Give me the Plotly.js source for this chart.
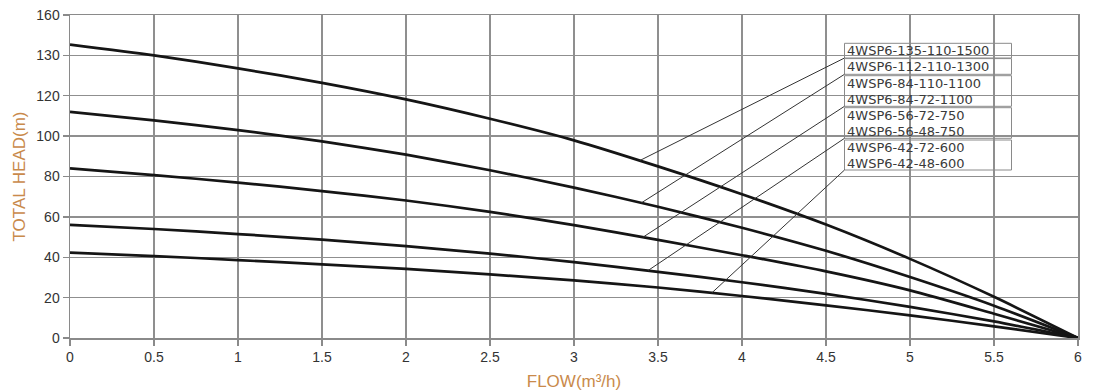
<!DOCTYPE html>
<html>
<head>
<meta charset="utf-8">
<script src="https://cdn.plot.ly/plotly-3.0.1.min.js"></script>
<style>html,body{margin:0;padding:0;background:#fff;}#chart{width:1112px;height:392px;}</style>
</head>
<body>
<div id="chart"></div>
<script>
// ---- data ----
const flow = [0, 0.5, 1, 1.5, 2, 2.5, 3, 3.5, 4, 4.5, 5, 5.5, 6];
const head1500 = [145.3, 140.0, 133.6, 126.4, 118.2, 108.6, 97.9, 85.0, 71.2, 56.2, 39.2, 20.4, 0];
const head1300 = [112.0, 107.8, 103.0, 97.4, 90.8, 83.1, 74.5, 65.0, 54.6, 43.2, 30.2, 16.0, 0];
const head1100 = [84.0, 80.7, 77.0, 72.8, 68.1, 62.5, 55.9, 48.6, 41.0, 33.0, 23.6, 12.0, 0];
const head750 = [56.0, 54.0, 51.5, 48.7, 45.5, 41.8, 37.6, 32.8, 27.6, 21.9, 15.4, 8.2, 0];
const head600 = [42.3, 40.6, 38.6, 36.5, 34.2, 31.5, 28.5, 25.0, 20.8, 16.2, 11.2, 5.8, 0];
const curves = [head1500, head1300, head1100, head750, head600];

const modelLabels = [
  ["4WSP6-135-110-1500"],
  ["4WSP6-112-110-1300"],
  ["4WSP6-84-110-1100", "4WSP6-84-72-1100"],
  ["4WSP6-56-72-750", "4WSP6-56-48-750"],
  ["4WSP6-42-72-600", "4WSP6-42-48-600"]
];
const labelFlow = [3.39, 3.40, 3.41, 3.44, 3.82];

const yTickVals = [0, 20, 40, 60, 80, 100, 120, 140, 160];
const yTickText = ["0", "20", "40", "60", "80", "100", "120", "130", "160"];

// ---- helpers ----
function interp(xs, ys, x) {
  for (let i = 0; i < xs.length - 1; i++) {
    if (x >= xs[i] && x <= xs[i + 1]) {
      const t = (x - xs[i]) / (xs[i + 1] - xs[i]);
      return ys[i] + t * (ys[i + 1] - ys[i]);
    }
  }
  return ys[ys.length - 1];
}

// plot area in pixels
const W = 1112, H = 392;
const M = {l: 70, r: 34, t: 15, b: 54};
const pw = W - M.l - M.r, ph = H - M.t - M.b;
const px2x = p => (p - M.l) / pw * 6;
const py2y = p => (H - M.b - p) / ph * 160;

// label boxes (pixel layout)
const boxLeft = 844.5, boxRight = 1011.5;
const boxTB = [[43.3, 58.0], [58.6, 74.3], [75.7, 106.3], [107.7, 138.3], [140.0, 170.0]];
const lineCenters = [[50.6], [66.4], [83.2], [99.0], [115.3], [131.0], [147.3], [163.0]];

const traces = curves.map((c, i) => ({
  x: flow, y: c, type: 'scatter', mode: 'lines',
  line: {color: '#151515', width: 2.7, shape: 'spline', smoothing: 0.7},
  hoverinfo: 'skip', showlegend: false
}));

const labelFont = {family: 'DejaVu Sans, sans-serif', size: 13, color: '#3a3a3a'};
const shapes = [];
const annotations = [];
let k = 0;
modelLabels.forEach((grp, i) => {
  const [t, b] = boxTB[i];
  shapes.push({type: 'rect', xref: 'x', yref: 'y',
    x0: px2x(boxLeft), x1: px2x(boxRight), y0: py2y(b), y1: py2y(t),
    line: {color: '#8a8a8a', width: 1}, fillcolor: 'rgba(255,255,255,0)', layer: 'above'});
  const fx = labelFlow[i];
  shapes.push({type: 'line', xref: 'x', yref: 'y',
    x0: fx, y0: interp(flow, curves[i], fx), x1: px2x(boxLeft), y1: py2y(b),
    line: {color: '#333', width: 1}, layer: 'above'});
  grp.forEach((txt) => {
    annotations.push({xref: 'x', yref: 'y', x: px2x(boxLeft + 1), y: py2y(lineCenters[k]),
      xanchor: 'left', yanchor: 'middle', text: txt, showarrow: false, borderpad: 0,
      font: labelFont});
    k++;
  });
});

const axisCommon = {
  showline: true, mirror: true, linecolor: '#8a8a8a', linewidth: 1.5,
  showgrid: true, gridcolor: '#8f8f8f', gridwidth: 1.3, zeroline: false,
  ticks: 'outside', ticklen: 6, tickcolor: '#8a8a8a', tickwidth: 1.3,
  tickfont: {family: 'Liberation Sans, Arial, sans-serif', size: 14, color: '#333'}
};

const layout = {
  width: W, height: H, margin: M,
  paper_bgcolor: '#fff', plot_bgcolor: '#fff',
  xaxis: Object.assign({}, axisCommon, {
    range: [0, 6], dtick: 0.5, tick0: 0,
    title: {text: 'FLOW(m³/h)', font: {family: 'Liberation Sans, Arial, sans-serif', size: 17, color: '#c98a4b'}, standoff: 11}
  }),
  yaxis: Object.assign({}, axisCommon, {
    range: [0, 160], tickmode: 'array', tickvals: yTickVals, ticktext: yTickText,
    title: {text: 'TOTAL HEAD(m)', font: {family: 'Liberation Sans, Arial, sans-serif', size: 17, color: '#c98a4b'}, standoff: 6}
  }),
  shapes: shapes, annotations: annotations, showlegend: false
};

Plotly.newPlot('chart', traces, layout, {staticPlot: true, displayModeBar: false});
</script>
</body>
</html>
